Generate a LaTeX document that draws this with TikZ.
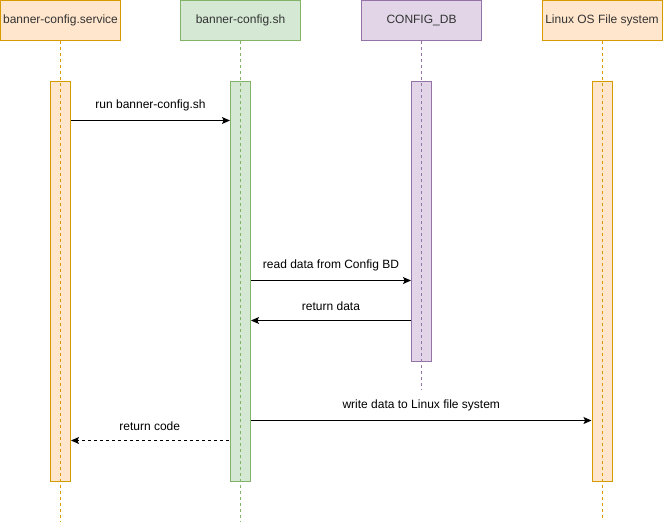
\documentclass[tikz,border=0pt]{standalone}
\usepackage{fontspec}
\setmainfont{Liberation Sans}
\usetikzlibrary{arrows.meta,calc}
\definecolor{orfill}{HTML}{FFE6CC}
\definecolor{ordraw}{HTML}{D79B00}
\definecolor{grfill}{HTML}{D5E8D4}
\definecolor{grdraw}{HTML}{82B366}
\definecolor{pufill}{HTML}{E1D5E7}
\definecolor{pudraw}{HTML}{9673A6}
\definecolor{txt}{HTML}{333333}
\begin{document}
\begin{tikzpicture}[
x=0.75pt, y=-0.75pt,
font=\fontsize{9pt}{11pt}\selectfont,
text=txt,
line width=0.75pt
]

\tikzstyle{hdr} = [draw, shape=rectangle, minimum width=90pt, minimum height=30pt, inner sep=0pt]
\tikzstyle{act} = [draw, shape=rectangle, minimum width=15pt, inner sep=0pt, anchor=north]
\tikzstyle{life} = [dash pattern=on 2.25pt off 2.25pt]
\tikzstyle{msg} = [-{Stealth[length=6pt,width=5.2pt,inset=1.2pt]}, black]
\tikzstyle{lbl} = [midway, yshift=11pt]

\useasboundingbox (0,0) rectangle (663,522);

% lifeline heads
\node[hdr, draw=ordraw, fill=orfill] (svc) at (60.5,20.5) {banner-config.service};
\node[hdr, draw=grdraw, fill=grfill] (sh) at (240.5,20.5) {banner-config.sh};
\node[hdr, draw=pudraw, fill=pufill] (db) at (421.5,20.5) {CONFIG\_DB};
\node[hdr, draw=ordraw, fill=orfill] (fs) at (602,20.5) {Linux OS File system};

% activation bars
\node[act, draw=ordraw, fill=orfill, minimum height=300pt] (svcA) at (60.5,80.5) {};
\node[act, draw=grdraw, fill=grfill, minimum height=300pt] (shA) at (240.5,80.5) {};
\node[act, draw=pudraw, fill=pufill, minimum height=210pt] (dbA) at (421.5,80.5) {};
\node[act, draw=ordraw, fill=orfill, minimum height=300pt] (fsA) at (602,80.5) {};

% lifelines
\coordinate (svcE) at (60.5,522);
\coordinate (shE) at (240.5,522);
\coordinate (dbE) at (421.5,390);
\coordinate (fsE) at (602,520);
\draw[life, ordraw] (svc.south) -- (svcE);
\draw[life, grdraw] (sh.south) -- (shE);
\draw[life, pudraw] (db.south) -- (dbE);
\draw[life, ordraw] (fs.south) -- (fsE);

% messages
\draw[msg] ($(svcA.north east)+(0,40)$) -- ($(shA.north west)+(0,40)$)
  node[lbl] {run banner-config.sh};
\draw[msg] ($(shA.north east)+(0,200)$) -- ($(dbA.north west)+(0,200)$)
  node[lbl] {read data from Config BD};
\draw[msg] ($(dbA.north west)+(0,240)$) -- ($(shA.north east)+(0,240)$)
  node[lbl] {return data};
\draw[msg] ($(shA.north east)+(0,340)$) -- ($(fsA.north west)+(0,340)$)
  node[lbl] {write data to Linux file system};
\draw[msg, dash pattern=on 2.25pt off 2.25pt] ($(shA.north west)+(-1.5,360)$) -- ($(svcA.north east)+(0,360)$)
  node[lbl] {return code};
\end{tikzpicture}
\end{document}
